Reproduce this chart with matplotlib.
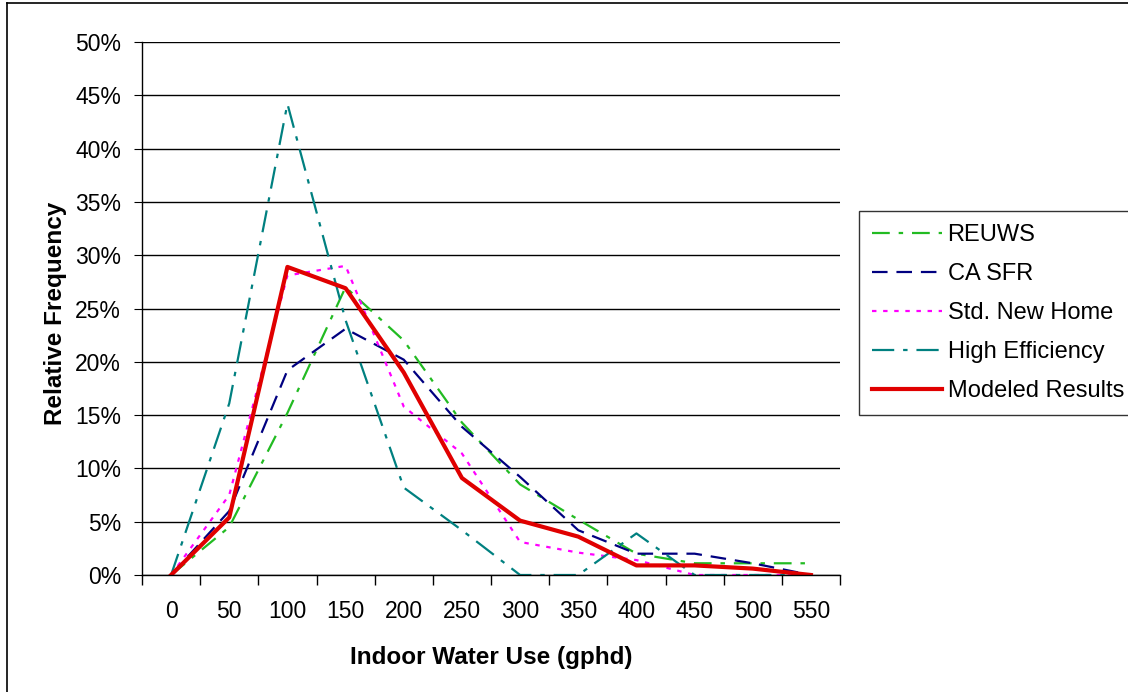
import numpy as np
import matplotlib.pyplot as plt
from matplotlib.lines import Line2D
from matplotlib.ticker import FuncFormatter

plt.rcParams['font.family'] = ['Liberation Sans', 'DejaVu Sans']

# x categories (gphd)
categories = ['0', '50', '100', '150', '200', '250', '300', '350', '400', '450', '500', '550']

# relative frequency in %
reuws = [0, 4.5, 15.2, 27.0, 22.0, 14.3, 8.5, 5.2, 2.0, 1.1, 1.1, 1.1]
ca_sfr = [0, 6.0, 19.2, 23.1, 20.2, 13.9, 9.2, 4.2, 2.0, 2.0, 1.1, 0]
std_new_home = [0, 7.5, 28.1, 29.0, 15.8, 11.4, 3.1, 2.1, 1.4, 0, 0, 0]
high_eff = [0, 16.1, 44.2, 23.9, 8.2, 4.2, 0, 0, 3.9, 0, 0, 0]
modeled = [0, 5.4, 28.9, 26.9, 19.0, 9.1, 5.1, 3.6, 0.9, 0.9, 0.6, 0]

fig = plt.figure(figsize=(11.28, 6.92), dpi=100)
ax = fig.add_axes([142/1128, 117/692, 698/1128, 533/692])

x = np.arange(len(categories))
ax.plot(x, reuws, color='#22BB22', lw=1.6, dashes=(8, 4, 2, 4), label='REUWS')
ax.plot(x, ca_sfr, color='#000080', lw=1.6, dashes=(7, 4), label='CA SFR')
ax.plot(x, std_new_home, color='#FF00FF', lw=1.6, dashes=(2, 3), label='Std. New Home')
ax.plot(x, high_eff, color='#008080', lw=1.6, dashes=(10, 4, 2, 4), label='High Efficiency')
ax.plot(x, modeled, color='#E00000', lw=3, label='Modeled Results')

ax.set_xlim(-0.5, 11.5)
ax.set_ylim(0, 50)
ax.set_yticks(np.arange(0, 51, 5))
ax.yaxis.set_major_formatter(FuncFormatter(lambda v, p: '%d%%' % v))
ax.grid(axis='y', color='black', lw=1)
ax.set_axisbelow(True)

ax.set_xticks(x)
ax.set_xticklabels(categories)
ax.set_xticks(np.arange(-0.5, 12, 1), minor=True)
ax.tick_params(axis='x', which='major', length=0, pad=18, labelsize=16.5)
ax.tick_params(axis='x', which='minor', length=7, direction='out', width=1)
ax.tick_params(axis='y', length=6, direction='out', labelsize=16.5, pad=9)

for s in ['top', 'right']:
    ax.spines[s].set_visible(False)
for s in ['left', 'bottom']:
    ax.spines[s].set_color('black')
    ax.spines[s].set_linewidth(1)

ax.set_xlabel('Indoor Water Use (gphd)', fontsize=17.5, fontweight='bold')
ax.xaxis.set_label_coords(0.5, -0.133)
ax.set_ylabel('Relative Frequency', fontsize=17.5, fontweight='bold')
ax.yaxis.set_label_coords(-0.107, 0.49)

leg = fig.legend(loc='upper left', bbox_to_anchor=(859/1128, 1 - 211/692),
                 fontsize=17, frameon=True, fancybox=False, edgecolor='black',
                 handlelength=2.95, handletextpad=0.25, labelspacing=0.72,
                 borderpad=0.55, borderaxespad=0)
leg.get_frame().set_linewidth(1)

# outer frame: only left and top edges visible
fig.add_artist(Line2D([7/1128, 7/1128], [0, 1 - 3/692], transform=fig.transFigure,
                      color='black', lw=1.2))
fig.add_artist(Line2D([7/1128, 1], [1 - 3/692, 1 - 3/692], transform=fig.transFigure,
                      color='black', lw=1.2))

fig.savefig('out.png', dpi=100)
